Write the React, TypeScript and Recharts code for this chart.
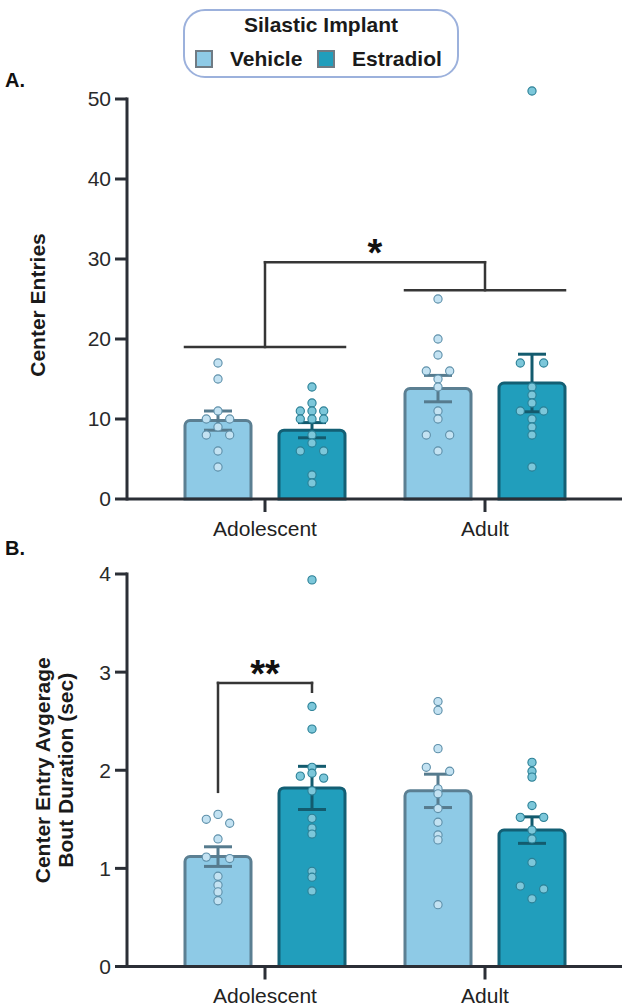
import React from "react";
import {
  Bar,
  ComposedChart,
  ErrorBar,
  Legend,
  ReferenceDot,
  ReferenceLine,
  Scatter,
  XAxis,
  YAxis,
} from "recharts";

const groups = ["Adolescent", "Adult"];
const treatments = ["Vehicle", "Estradiol"];

// A. center entries
const entriesVehicleMean = [9.8, 13.8];
const entriesVehicleSem = [1.2, 1.65];
const entriesEstradiolMean = [8.6, 14.5];
const entriesEstradiolSem = [0.95, 3.6];
const entriesVehicleAdolescent = [17, 15, 11, 10, 10, 9, 8, 8, 6, 4];
const entriesEstradiolAdolescent = [14, 12, 11, 11, 11, 10, 10, 10, 8, 7, 6, 6, 3, 2];
const entriesVehicleAdult = [25, 20, 18, 16, 16, 15, 14, 11, 10, 8, 8, 6];
const entriesEstradiolAdult = [51, 17, 17, 14, 13, 12, 11, 11, 10, 9, 8, 4];
const entriesTicks = [0, 10, 20, 30, 40, 50];
const entriesGroupLine = [19, 26.1];
const entriesBracketTop = 29.6;

// B. average bout duration (sec)
const boutVehicleMean = [1.12, 1.79];
const boutVehicleSem = [0.1, 0.17];
const boutEstradiolMean = [1.82, 1.39];
const boutEstradiolSem = [0.22, 0.135];
const boutVehicleAdolescent = [1.55, 1.5, 1.46, 1.3, 1.115, 1.1, 0.92, 0.83, 0.76, 0.67];
const boutEstradiolAdolescent = [3.94, 2.65, 2.42, 2.03, 1.97, 1.94, 1.92, 1.79, 1.51, 1.41, 1.35, 0.97, 0.91, 0.77];
const boutVehicleAdult = [2.7, 2.61, 2.22, 2.03, 1.99, 1.81, 1.76, 1.61, 1.47, 1.34, 1.29, 0.63];
const boutEstradiolAdult = [2.08, 1.99, 1.93, 1.64, 1.52, 1.52, 1.39, 1.3, 1.06, 0.82, 0.79, 0.69];
const boutTicks = [0, 1, 2, 3, 4];
const boutBracket = [1.78, 2.89, 2.8]; // left foot, top, right foot

const FONT = '"Liberation Sans", Arial, sans-serif';
const AXIS = "#2b2f36";
const LINE = "#363636";
const VEH_FILL = "#8ecae6";
const VEH_STROKE = "#5b7f92";
const VEH_ERR = "#567b8e";
const VEH_DOT = "#c3e2f2";
const VEH_DOT_STROKE = "#5d8fa9";
const EST_FILL = "#219ebc";
const EST_STROKE = "#135f74";
const EST_ERR = "#135b6e";
const EST_DOT = "#7cc7da";
const EST_DOT_STROKE = "#2a7f95";

const W = 624;
const Y_AXIS_W = 127;
const RIGHT = 2;
const PAD_L = 28;
const PAD_R = 27;
const X_AXIS_H = 40;
const BAND = (W - Y_AXIS_W - RIGHT - PAD_L - PAD_R) / 2;
const BAR_SIZE = 66;
const BAR_GAP = 28;
const BAR_SHIFT = (BAR_SIZE + BAR_GAP) / 2 / BAND; // bar centre from group centre, in group units
const BAR_HALF = BAR_SIZE / 2 / BAND;
const COL = 11.7 / BAND; // swarm column spacing
const X_LEFT = -PAD_L / BAND;
const DOT_R = 4.1;

const barX = (g: number, t: number) => g + 0.5 + (t === 0 ? -BAR_SHIFT : BAR_SHIFT);

// simple scatter spreading: close values share a row and spread sideways
function swarm(values: number[], xc: number, tol: number) {
  const sorted = [...values].sort((a, b) => b - a);
  const rows: number[][] = [];
  sorted.forEach((v, i) => {
    if (i > 0 && sorted[i - 1] - v < tol) rows[rows.length - 1].push(v);
    else rows.push([v]);
  });
  const pts: { x: number; y: number }[] = [];
  rows.forEach((row) => {
    const cols = row.length % 2 ? [0, -1, 1, -2, 2] : [-1, 1, -2, 2];
    row.forEach((v, k) => pts.push({ x: xc + cols[k] * COL, y: v }));
  });
  return pts;
}

const dotShape = (fill: string, stroke: string) => (p: any) => (
  <circle cx={p.cx} cy={p.cy} r={DOT_R} fill={fill} stroke={stroke} strokeWidth={1.1} />
);

const starShape = (text: string) => (p: any) => (
  <text x={p.cx} y={p.cy + 4} textAnchor="middle" fontSize={38} fontWeight={700} fill="#111" fontFamily={FONT}>
    {text}
  </text>
);

function LegendBox() {
  return (
    <div
      style={{
        position: "relative",
        width: 276,
        height: 69,
        boxSizing: "border-box",
        border: "2px solid #9cb1dc",
        borderRadius: 22,
        background: "#fff",
        color: "#1a1a1a",
        fontWeight: 700,
        fontSize: 21,
        fontFamily: FONT,
      }}
    >
      <div style={{ position: "absolute", left: 0, right: 0, top: 2, lineHeight: "24px", textAlign: "center" }}>
        Silastic Implant
      </div>
      {treatments.map((t, i) => (
        <React.Fragment key={t}>
          <div
            style={{
              position: "absolute",
              left: i === 0 ? 10 : 132,
              top: 39,
              width: 18,
              height: 18,
              boxSizing: "border-box",
              border: "2px solid #6f7b84",
              background: i === 0 ? VEH_FILL : EST_FILL,
            }}
          />
          <div style={{ position: "absolute", left: i === 0 ? 45 : 167, top: 36, lineHeight: "24px" }}>{t}</div>
        </React.Fragment>
      ))}
    </div>
  );
}

type PanelProps = {
  height: number;
  y0: number;
  yTop: number;
  ticks: number[];
  vehMean: number[];
  vehSem: number[];
  estMean: number[];
  estSem: number[];
  vehDots: number[][];
  estDots: number[][];
  tol: number;
  title: string[];
  titleX: number[];
  titleShift: number;
  annotations: React.ReactNode[];
  legend?: boolean;
};

function Panel(props: PanelProps) {
  const { height, y0, yTop, ticks } = props;
  const last = ticks[ticks.length - 1];
  const ppu = (y0 - yTop) / last;
  const allDots = [...props.vehDots.flat(), ...props.estDots.flat()];
  const domMax = Math.max(last, ...allDots);
  const marginTop = y0 - domMax * ppu;
  const marginBottom = height - y0 - X_AXIS_H;
  const titleY = (y0 + yTop) / 2 + props.titleShift;

  const data = groups.map((g, i) => ({
    group: g,
    vehicle: props.vehMean[i],
    vehicleSem: props.vehSem[i],
    estradiol: props.estMean[i],
    estradiolSem: props.estSem[i],
  }));
  const vehPts = groups.flatMap((_, g) => swarm(props.vehDots[g], barX(g, 0), props.tol));
  const estPts = groups.flatMap((_, g) => swarm(props.estDots[g], barX(g, 1), props.tol));

  const renderTitle = () => (
    <g>
      {props.title.map((line, i) => (
        <text
          key={line}
          x={props.titleX[i]}
          y={titleY}
          transform={`rotate(-90, ${props.titleX[i]}, ${titleY})`}
          textAnchor="middle"
          fontSize={21}
          fontWeight={700}
          fill="#1a1a1a"
          fontFamily={FONT}
        >
          {line}
        </text>
      ))}
    </g>
  );

  return (
    <ComposedChart
      width={W}
      height={height}
      data={data}
      margin={{ top: marginTop, right: RIGHT, bottom: marginBottom, left: 0 }}
      barGap={BAR_GAP}
    >
      <XAxis
        xAxisId="cat"
        dataKey="group"
        type="category"
        padding={{ left: PAD_L, right: PAD_R }}
        height={X_AXIS_H}
        axisLine={{ stroke: AXIS, strokeWidth: 3 }}
        tickLine={{ stroke: AXIS, strokeWidth: 3 }}
        tickSize={13}
        tickMargin={9}
        tick={{ fill: "#222", fontSize: 21, fontFamily: FONT }}
        interval={0}
      />
      <XAxis xAxisId="num" type="number" dataKey="x" domain={[0, 2]} padding={{ left: PAD_L, right: PAD_R }} hide />
      <YAxis
        width={Y_AXIS_W}
        domain={[0, last]}
        ticks={ticks}
        interval={0}
        axisLine={false}
        tickLine={{ stroke: AXIS, strokeWidth: 3 }}
        tickSize={12}
        tickMargin={4}
        tick={{ fill: "#2a2a2a", fontSize: 21, fontFamily: FONT }}
        label={renderTitle}
      />
      {props.legend && (
        <Legend
          layout="horizontal"
          verticalAlign="middle"
          align="center"
          wrapperStyle={{ top: 9, left: 183, width: 276, height: 69 }}
          content={() => <LegendBox />}
        />
      )}
      <ReferenceLine
        xAxisId="num"
        segment={[
          { x: X_LEFT, y: 0 },
          { x: X_LEFT, y: last },
        ]}
        stroke={AXIS}
        strokeWidth={3}
        strokeLinecap="square"
        ifOverflow="visible"
      />
      <Bar
        xAxisId="cat"
        dataKey="vehicle"
        name="Vehicle"
        barSize={BAR_SIZE}
        fill={VEH_FILL}
        stroke={VEH_STROKE}
        strokeWidth={3}
        radius={[5, 5, 0, 0]}
        isAnimationActive={false}
      >
        <ErrorBar dataKey="vehicleSem" width={14} stroke={VEH_ERR} strokeWidth={3} direction="y" />
      </Bar>
      <Bar
        xAxisId="cat"
        dataKey="estradiol"
        name="Estradiol"
        barSize={BAR_SIZE}
        fill={EST_FILL}
        stroke={EST_STROKE}
        strokeWidth={3}
        radius={[5, 5, 0, 0]}
        isAnimationActive={false}
      >
        <ErrorBar dataKey="estradiolSem" width={14} stroke={EST_ERR} strokeWidth={3} direction="y" />
      </Bar>
      {props.annotations}
      <Scatter
        xAxisId="num"
        name="Vehicle animals"
        data={vehPts}
        dataKey="y"
        shape={dotShape(VEH_DOT, VEH_DOT_STROKE)}
        isAnimationActive={false}
      />
      <Scatter
        xAxisId="num"
        name="Estradiol animals"
        data={estPts}
        dataKey="y"
        shape={dotShape(EST_DOT, EST_DOT_STROKE)}
        isAnimationActive={false}
      />
    </ComposedChart>
  );
}

const seg = (key: string, x1: number, y1: number, x2: number, y2: number) => (
  <ReferenceLine
    key={key}
    xAxisId="num"
    segment={[
      { x: x1, y: y1 },
      { x: x2, y: y2 },
    ]}
    stroke={LINE}
    strokeWidth={2.5}
    strokeLinecap="square"
    ifOverflow="visible"
  />
);

const entriesAnnotations = [
  ...groups.map((g, i) =>
    seg(`grp-${g}`, i + 0.5 - BAR_SHIFT - BAR_HALF, entriesGroupLine[i], i + 0.5 + BAR_SHIFT + BAR_HALF, entriesGroupLine[i])
  ),
  seg("drop-l", 0.5, entriesGroupLine[0], 0.5, entriesBracketTop),
  seg("top", 0.5, entriesBracketTop, 1.5, entriesBracketTop),
  seg("drop-r", 1.5, entriesBracketTop, 1.5, entriesGroupLine[1]),
  <ReferenceDot key="star" xAxisId="num" x={1} y={entriesBracketTop} r={0} ifOverflow="visible" shape={starShape("*")} />,
];

const boutAnnotations = [
  seg("b-left", barX(0, 0), boutBracket[0], barX(0, 0), boutBracket[1]),
  seg("b-top", barX(0, 0), boutBracket[1], barX(0, 1), boutBracket[1]),
  seg("b-right", barX(0, 1), boutBracket[1], barX(0, 1), boutBracket[2]),
  <ReferenceDot key="stars" xAxisId="num" x={0.5} y={boutBracket[1]} r={0} ifOverflow="visible" shape={starShape("**")} />,
];

const panelLetter = (text: string, top: number) => (
  <div style={{ position: "absolute", left: 5, top, fontSize: 20, fontWeight: 700, lineHeight: "24px", color: "#111" }}>
    {text}
  </div>
);

export default function App() {
  return (
    <div style={{ position: "absolute", left: 0, top: 0, width: W, height: 1007, background: "#fff", fontFamily: FONT }}>
      <div style={{ position: "absolute", left: 0, top: 0 }}>
        <Panel
          height={560}
          y0={499}
          yTop={99}
          ticks={entriesTicks}
          vehMean={entriesVehicleMean}
          vehSem={entriesVehicleSem}
          estMean={entriesEstradiolMean}
          estSem={entriesEstradiolSem}
          vehDots={[entriesVehicleAdolescent, entriesVehicleAdult]}
          estDots={[entriesEstradiolAdolescent, entriesEstradiolAdult]}
          tol={0.5}
          title={["Center Entries"]}
          titleX={[45]}
          titleShift={6}
          annotations={entriesAnnotations}
          legend
        />
      </div>
      <div style={{ position: "absolute", left: 0, top: 560 }}>
        <Panel
          height={447}
          y0={406.5}
          yTop={14}
          ticks={boutTicks}
          vehMean={boutVehicleMean}
          vehSem={boutVehicleSem}
          estMean={boutEstradiolMean}
          estSem={boutEstradiolSem}
          vehDots={[boutVehicleAdolescent, boutVehicleAdult]}
          estDots={[boutEstradiolAdolescent, boutEstradiolAdult]}
          tol={0.045}
          title={["Center Entry Avgerage", "Bout Duration (sec)"]}
          titleX={[50, 73]}
          titleShift={0}
          annotations={boutAnnotations}
        />
      </div>
      {panelLetter("A.", 68)}
      {panelLetter("B.", 536)}
    </div>
  );
}
